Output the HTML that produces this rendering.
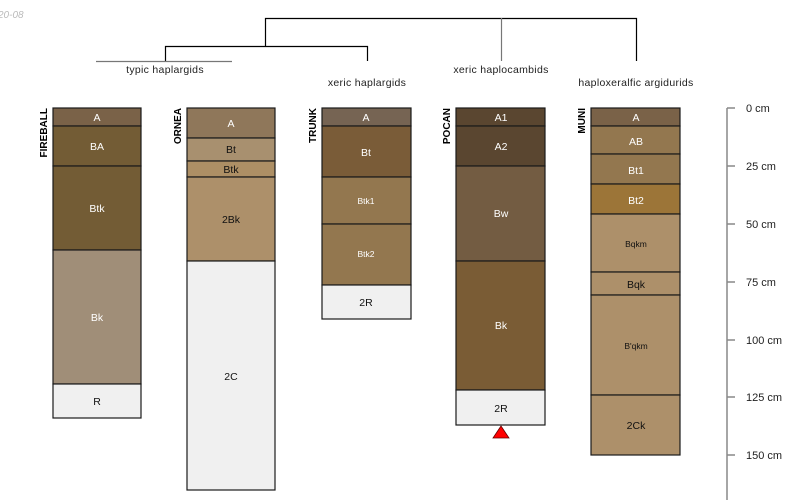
<!DOCTYPE html>
<html><head><meta charset="utf-8"><style>
html,body{margin:0;padding:0;background:#fff;}
svg{display:block;font-family:"Liberation Sans",sans-serif;}
</style></head><body>
<svg width="800" height="500" viewBox="0 0 800 500">
<text x="-2" y="18" font-size="10" fill="#bbb" font-style="italic">20-08</text>
<!-- dendrogram -->
<g stroke="#000" stroke-width="1.2" fill="none">
<path d="M265.5 46V18.5H636.5V61"/>
<path d="M165.5 61V46.5H367.5V61"/>
</g>
<line x1="96" y1="61.5" x2="232" y2="61.5" stroke="#777" stroke-width="1.2"/>
<line x1="501.5" y1="18" x2="501.5" y2="61" stroke="#777" stroke-width="1.2"/>
<g font-size="10.5" fill="#222" text-anchor="middle" letter-spacing="0.3">
<text x="165" y="73">typic haplargids</text>
<text x="367" y="86">xeric haplargids</text>
<text x="501" y="73">xeric haplocambids</text>
<text x="636" y="86">haploxeralfic argidurids</text>
</g>
<g stroke="#1a1a1a" stroke-width="1.2" font-size="10" text-anchor="middle">
<!-- FIREBALL -->
<rect x="53" y="108" width="88" height="18" fill="#7a6248"/>
<rect x="53" y="126" width="88" height="40" fill="#735c35"/>
<rect x="53" y="166" width="88" height="84" fill="#735c35"/>
<rect x="53" y="250" width="88" height="134" fill="#a08e78"/>
<rect x="53" y="384" width="88" height="34" fill="#f0f0f0"/>
<!-- ORNEA -->
<rect x="187" y="108" width="88" height="30" fill="#8f775a"/>
<rect x="187" y="138" width="88" height="23" fill="#a8906f"/>
<rect x="187" y="161" width="88" height="16" fill="#ad8f65"/>
<rect x="187" y="177" width="88" height="84" fill="#ad906a"/>
<rect x="187" y="261" width="88" height="229" fill="#f0f0f0"/>
<!-- TRUNK -->
<rect x="322" y="108" width="89" height="18" fill="#766453"/>
<rect x="322" y="126" width="89" height="51" fill="#7a5c38"/>
<rect x="322" y="177" width="89" height="47" fill="#93774f"/>
<rect x="322" y="224" width="89" height="61" fill="#93774f"/>
<rect x="322" y="285" width="89" height="34" fill="#f0f0f0"/>
<!-- POCAN -->
<rect x="456" y="108" width="89" height="18" fill="#5a4630"/>
<rect x="456" y="126" width="89" height="40" fill="#5a4630"/>
<rect x="456" y="166" width="89" height="95" fill="#735c42"/>
<rect x="456" y="261" width="89" height="129" fill="#7a5c35"/>
<rect x="456" y="390" width="89" height="35" fill="#f0f0f0"/>
<!-- MUNI -->
<rect x="591" y="108" width="89" height="18" fill="#7a6248"/>
<rect x="591" y="126" width="89" height="28" fill="#93774f"/>
<rect x="591" y="154" width="89" height="30" fill="#93774f"/>
<rect x="591" y="184" width="89" height="30" fill="#9c7538"/>
<rect x="591" y="214" width="89" height="58" fill="#ad906a"/>
<rect x="591" y="272" width="89" height="23" fill="#ad906a"/>
<rect x="591" y="295" width="89" height="100" fill="#ad906a"/>
<rect x="591" y="395" width="89" height="60" fill="#ad906a"/>
</g>
<polygon points="493,438 509,438 501,426" fill="#f00" stroke="#600" stroke-width="0.8"/>
<g font-size="10.5" text-anchor="middle" fill="#fff">
<text x="97" y="121">A</text><text x="97" y="150">BA</text><text x="97" y="212">Btk</text><text x="97" y="321">Bk</text>
<text x="97" y="405" fill="#111">R</text>
<text x="231" y="127">A</text><text x="231" y="153" fill="#111">Bt</text><text x="231" y="173" fill="#111">Btk</text>
<text x="231" y="223" fill="#111">2Bk</text><text x="231" y="380" fill="#111">2C</text>
<text x="366" y="121">A</text><text x="366" y="156">Bt</text>
<text x="366" y="204" font-size="8.5">Btk1</text><text x="366" y="257" font-size="8.5">Btk2</text>
<text x="366" y="306" fill="#111">2R</text>
<text x="501" y="121">A1</text><text x="501" y="150">A2</text><text x="501" y="217">Bw</text><text x="501" y="329">Bk</text>
<text x="501" y="412" fill="#111">2R</text>
<text x="636" y="121">A</text><text x="636" y="145">AB</text><text x="636" y="174">Bt1</text><text x="636" y="204">Bt2</text>
<text x="636" y="247" font-size="8.5" fill="#111">Bqkm</text><text x="636" y="288" fill="#111">Bqk</text>
<text x="636" y="349" font-size="8.5" fill="#111">B'qkm</text><text x="636" y="429" fill="#111">2Ck</text>
</g>
<g font-size="10" font-weight="bold" fill="#000">
<text transform="translate(47,108) rotate(-90)" text-anchor="end">FIREBALL</text>
<text transform="translate(181,108) rotate(-90)" text-anchor="end">ORNEA</text>
<text transform="translate(316,108) rotate(-90)" text-anchor="end">TRUNK</text>
<text transform="translate(450,108) rotate(-90)" text-anchor="end">POCAN</text>
<text transform="translate(585,108) rotate(-90)" text-anchor="end">MUNI</text>
</g>
<!-- axis -->
<g stroke="#888" stroke-width="1.5">
<line x1="727" y1="108" x2="727" y2="500"/>
<line x1="727" y1="108" x2="735" y2="108"/>
<line x1="727" y1="166" x2="735" y2="166"/>
<line x1="727" y1="224" x2="735" y2="224"/>
<line x1="727" y1="282" x2="735" y2="282"/>
<line x1="727" y1="340" x2="735" y2="340"/>
<line x1="727" y1="397" x2="735" y2="397"/>
<line x1="727" y1="455" x2="735" y2="455"/>
</g>
<g font-size="11" fill="#222">
<text x="746" y="112">0 cm</text>
<text x="746" y="170">25 cm</text>
<text x="746" y="228">50 cm</text>
<text x="746" y="286">75 cm</text>
<text x="746" y="344">100 cm</text>
<text x="746" y="401">125 cm</text>
<text x="746" y="459">150 cm</text>
</g>
</svg>
</body></html>
